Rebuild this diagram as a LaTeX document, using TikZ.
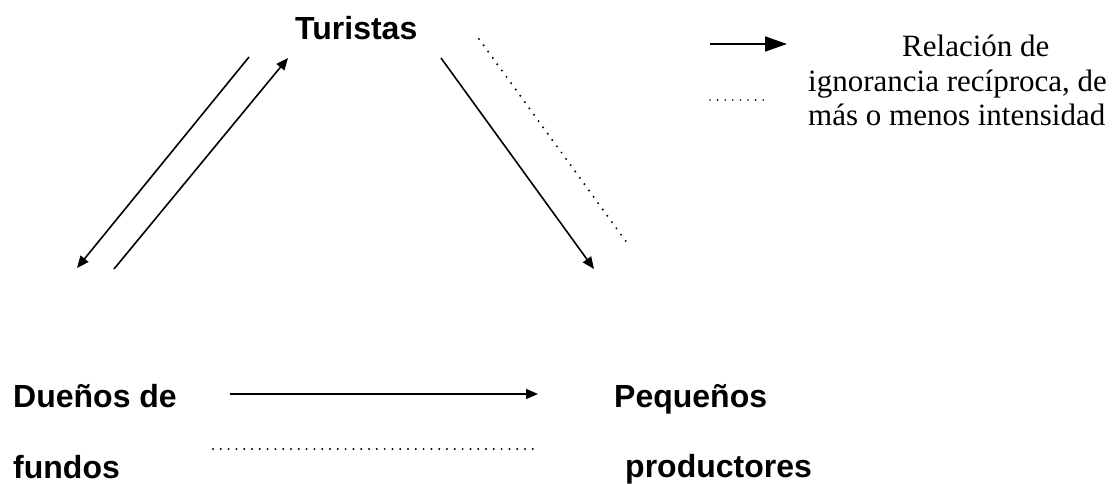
\documentclass[tikz,border=0pt]{standalone}
\usepackage{fontspec}
\setmainfont{Liberation Serif}
\setsansfont{Liberation Sans}
\usetikzlibrary{arrows.meta}
\begin{document}
\begin{tikzpicture}[x=1pt,y=-1pt,
  lbl/.style={font=\sffamily\bfseries\fontsize{32}{38}\selectfont, anchor=base west, inner sep=0pt},
  leg/.style={font=\fontsize{31}{35}\selectfont, anchor=base west, inner sep=0pt},
  rel/.style={line width=1.6pt, -{Triangle[length=12pt,width=10pt]}},
  bigrel/.style={line width=1.8pt, -{Triangle[length=22pt,width=15pt]}},
  ign/.style={line width=2.2pt, line cap=round, dash pattern=on 0pt off 7.8pt},
  ignsmall/.style={line width=1.8pt, line cap=round, dash pattern=on 0pt off 7.6pt}]
\useasboundingbox (0,0) rectangle (1118,484);
% labels
\node[lbl] (tur) at (295,40) {Turistas};
\node[lbl] (due) at (13,407) {Dueños de};
\node[lbl] (fun) at (13,478) {fundos};
\node[lbl] (peq) at (614,407) {Pequeños};
\node[lbl] (pro) at (625,477) {productores};
\node[leg] (l1) at (902,57) {Relación de};
\node[leg] (l2) at (808,92) {ignorancia recíproca, de};
\node[leg] (l3) at (808,125) {más o menos intensidad};
% connector end points
\coordinate (a1s) at (249,57);  \coordinate (a1e) at (77,268);
\coordinate (a2s) at (114,269); \coordinate (a2e) at (288,58);
\coordinate (a3s) at (441,58);  \coordinate (a3e) at (594,269);
\coordinate (d1s) at (479,39);  \coordinate (d1e) at (630,247);
\coordinate (b1s) at (230,394); \coordinate (b1e) at (538,394);
\coordinate (d2s) at (213,449); \coordinate (d2e) at (537,449);
\coordinate (ls) at (710,44);   \coordinate (le) at (787,44);
\coordinate (ds) at (710,100);  \coordinate (de) at (767,100);
% connectors
\draw[rel] (a1s) -- (a1e);
\draw[rel] (a2s) -- (a2e);
\draw[rel] (a3s) -- (a3e);
\draw[ign] (d1s) -- (d1e);
\draw[rel] (b1s) -- (b1e);
\draw[ign] (d2s) -- (d2e);
\draw[bigrel] (ls) -- (le);
\draw[ignsmall] (ds) -- (de);
\end{tikzpicture}
\end{document}
